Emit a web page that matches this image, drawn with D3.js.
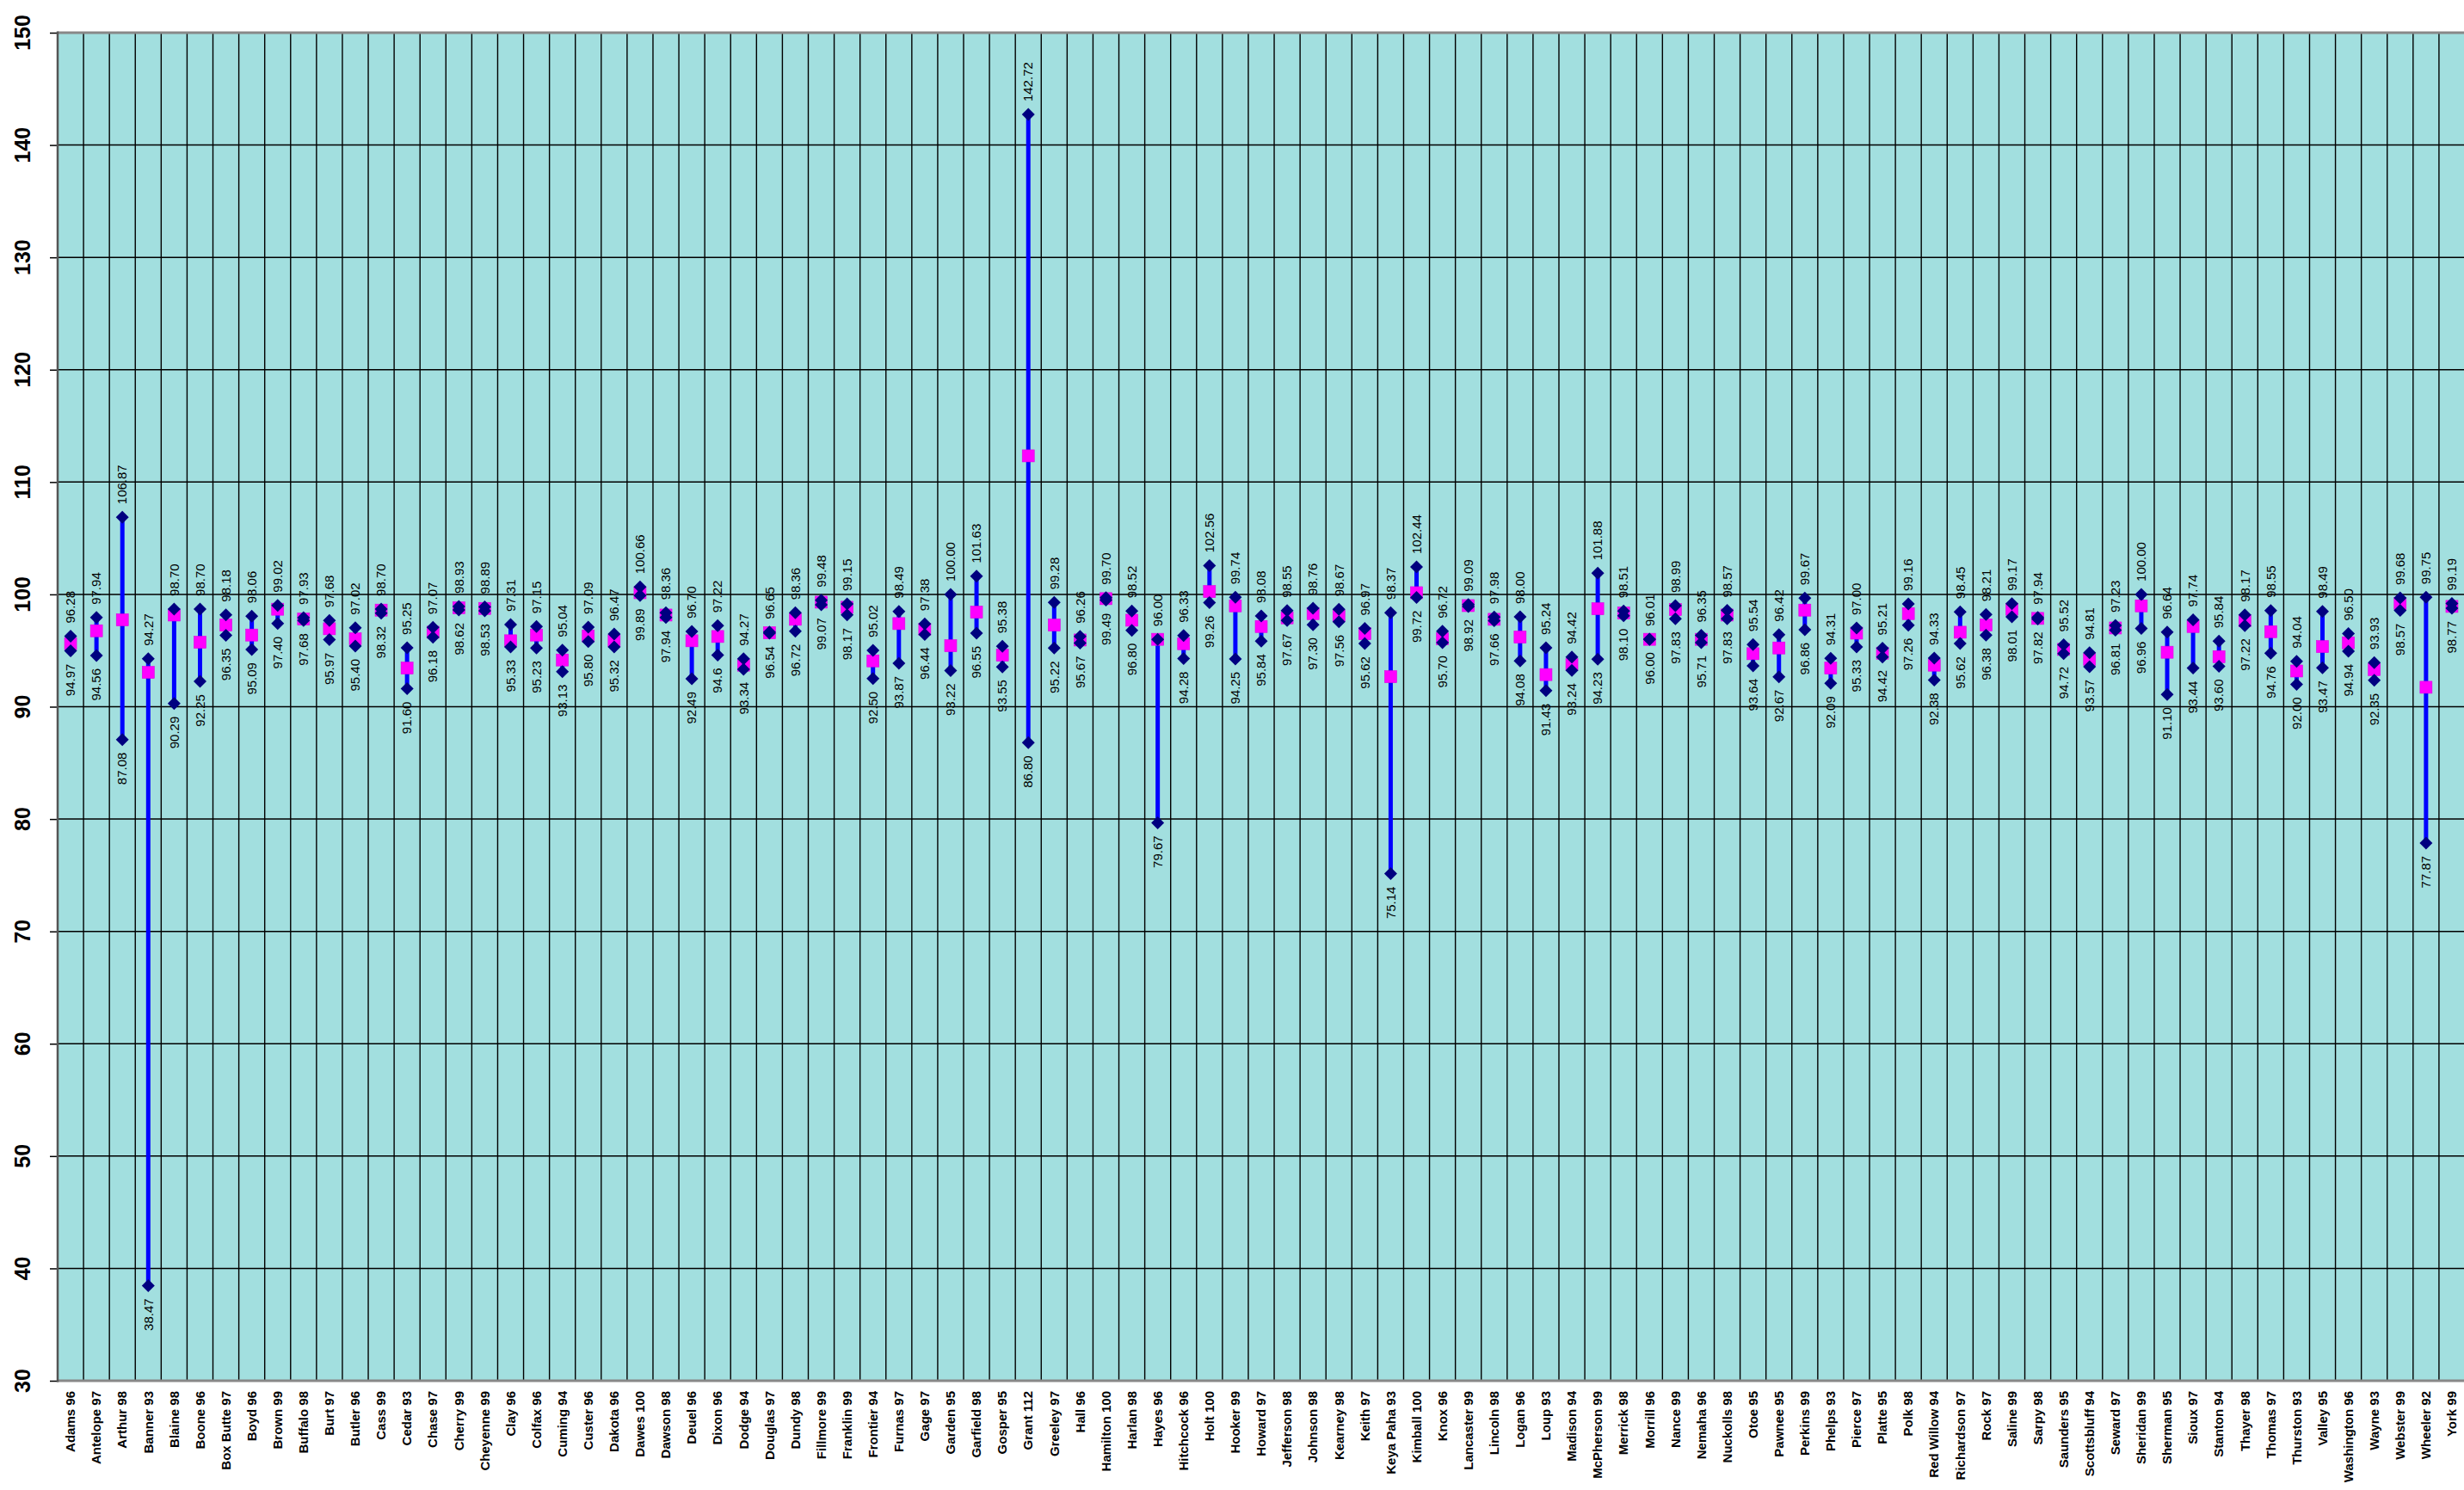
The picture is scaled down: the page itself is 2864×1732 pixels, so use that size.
<!DOCTYPE html>
<html><head><meta charset="utf-8">
<script src="https://cdn.jsdelivr.net/npm/d3@7"></script>
<style>html,body{margin:0;padding:0;background:#fff;} svg{display:block;}</style>
</head><body>
<script>
const categories = ["Adams 96","Antelope 97","Arthur 98","Banner 93","Blaine 98","Boone 96","Box Butte 97","Boyd 96","Brown 99","Buffalo 98","Burt 97","Butler 96","Cass 99","Cedar 93","Chase 97","Cherry 99","Cheyenne 99","Clay 96","Colfax 96","Cuming 94","Custer 96","Dakota 96","Dawes 100","Dawson 98","Deuel 96","Dixon 96","Dodge 94","Douglas 97","Dundy 98","Fillmore 99","Franklin 99","Frontier 94","Furnas 97","Gage 97","Garden 95","Garfield 98","Gosper 95","Grant 112","Greeley 97","Hall 96","Hamilton 100","Harlan 98","Hayes 96","Hitchcock 96","Holt 100","Hooker 99","Howard 97","Jefferson 98","Johnson 98","Kearney 98","Keith 97","Keya Paha 93","Kimball 100","Knox 96","Lancaster 99","Lincoln 98","Logan 96","Loup 93","Madison 94","McPherson 99","Merrick 98","Morrill 96","Nance 99","Nemaha 96","Nuckolls 98","Otoe 95","Pawnee 95","Perkins 99","Phelps 93","Pierce 97","Platte 95","Polk 98","Red Willow 94","Richardson 97","Rock 97","Saline 99","Sarpy 98","Saunders 95","Scottsbluff 94","Seward 97","Sheridan 99","Sherman 95","Sioux 97","Stanton 94","Thayer 98","Thomas 97","Thurston 93","Valley 95","Washington 96","Wayne 93","Webster 99","Wheeler 92","York 99"];

const highs = [96.28,97.94,106.87,94.27,98.70,98.70,98.18,98.06,99.02,97.93,97.68,97.02,98.70,95.25,97.07,98.93,98.89,97.31,97.15,95.04,97.09,96.47,100.66,98.36,96.70,97.22,94.27,96.65,98.36,99.48,99.15,95.02,98.49,97.38,100.00,101.63,95.38,142.72,99.28,96.26,99.70,98.52,96.00,96.33,102.56,99.74,98.08,98.55,98.76,98.67,96.97,98.37,102.44,96.72,99.09,97.98,98.00,95.24,94.42,101.88,98.51,96.01,98.99,96.35,98.57,95.54,96.42,99.67,94.31,97.00,95.21,99.16,94.33,98.45,98.21,99.17,97.94,95.52,94.81,97.23,100.00,96.64,97.74,95.84,98.17,98.55,94.04,98.49,96.50,93.93,99.68,99.75,99.19];

const lows = [94.97,94.56,87.08,38.47,90.29,92.25,96.35,95.09,97.40,97.68,95.97,95.40,98.32,91.60,96.18,98.62,98.53,95.33,95.23,93.13,95.80,95.32,99.89,97.94,92.49,94.6,93.34,96.54,96.72,99.07,98.17,92.50,93.87,96.44,93.22,96.55,93.55,86.80,95.22,95.67,99.49,96.80,79.67,94.28,99.26,94.25,95.84,97.67,97.30,97.56,95.62,75.14,99.72,95.70,98.92,97.66,94.08,91.43,93.24,94.23,98.10,96.00,97.83,95.71,97.83,93.64,92.67,96.86,92.09,95.33,94.42,97.26,92.38,95.62,96.38,98.01,97.82,94.72,93.57,96.81,96.96,91.10,93.44,93.60,97.22,94.76,92.00,93.47,94.94,92.35,98.57,77.87,98.77];

const means = [95.61,96.76,97.73,93.06,98.16,95.74,97.27,96.38,98.68,97.80,96.94,96.04,98.60,93.44,96.63,98.80,98.75,95.87,96.38,94.16,96.30,95.87,100.15,98.16,95.87,96.25,93.70,96.58,97.78,99.31,98.85,94.08,97.40,96.89,95.43,98.42,94.59,112.33,97.27,95.94,99.62,97.70,96.00,95.61,100.25,98.98,97.14,97.91,98.29,98.09,96.50,92.67,100.15,96.04,99.00,97.78,96.20,92.86,93.75,98.72,98.34,96.00,98.65,96.00,98.16,94.72,95.23,98.60,93.44,96.55,94.77,98.29,93.70,96.63,97.27,98.68,97.86,95.10,94.20,97.01,98.98,94.85,97.14,94.45,97.65,96.68,93.18,95.35,95.69,93.31,99.18,91.73,98.93];

const yTicks = [30,40,50,60,70,80,90,100,110,120,130,140,150];

const W = 2864, H = 1732;
const L = 67, R = 2865, T = 38, B = 1605;
const FONT = "'Liberation Sans', Arial, Helvetica, sans-serif";

const svg = d3.select("body").append("svg").attr("width", W).attr("height", H);

const x = d3.scaleBand().domain(categories).range([L, R]).padding(0);
const y = d3.scaleLinear().domain([30, 150]).range([B, T]);

// plot background
svg.append("rect").attr("x", L).attr("y", T).attr("width", R - L).attr("height", B - T).attr("fill", "#A2DFDF");

// horizontal gridlines + ticks
const yAxis = d3.axisLeft(y).tickValues(yTicks).tickSize(9).tickFormat("");
const gy = svg.append("g").attr("transform", `translate(${L},0)`).call(yAxis);
gy.select(".domain").remove();
gy.selectAll(".tick line").attr("stroke", "#000").attr("stroke-width", 1.5);
svg.append("g").selectAll("line").data(yTicks.filter(v => v > 30 && v < 150)).join("line")
  .attr("x1", L).attr("x2", R).attr("y1", d => y(d)).attr("y2", d => y(d))
  .attr("stroke", "#000").attr("stroke-width", 1.5);

// y tick labels (rotated)
svg.append("g").selectAll("text").data(yTicks).join("text")
  .attr("transform", d => `translate(26,${y(d)}) rotate(-90)`)
  .attr("text-anchor", "middle").attr("dy", "0.35em")
  .attr("font-family", FONT).attr("font-weight", "bold").attr("font-size", 25)
  .attr("fill", "#000").text(d => d);

// vertical gridlines at category boundaries
const bounds = categories.map(c => x(c)).slice(1);
svg.append("g").selectAll("line").data(bounds).join("line")
  .attr("x1", d => d).attr("x2", d => d).attr("y1", T).attr("y2", B)
  .attr("stroke", "#000").attr("stroke-width", 1.4);

// borders
svg.append("line").attr("x1", L).attr("x2", R).attr("y1", T).attr("y2", T).attr("stroke", "#888").attr("stroke-width", 3);
svg.append("line").attr("x1", L).attr("x2", R).attr("y1", B).attr("y2", B).attr("stroke", "#888").attr("stroke-width", 3);
svg.append("line").attr("x1", L).attr("x2", L).attr("y1", T - 1.5).attr("y2", B + 1.5).attr("stroke", "#555").attr("stroke-width", 2.5);

// x category labels
const xAxis = d3.axisBottom(x).tickSize(0).tickPadding(0);
const gx = svg.append("g").attr("transform", `translate(0,${B})`).call(xAxis);
gx.select(".domain").remove();
gx.selectAll(".tick text")
  .attr("transform", "translate(0,12) rotate(-90)")
  .attr("text-anchor", "end").attr("dy", "0.35em").attr("y", 0).attr("x", 0)
  .attr("font-family", FONT).attr("font-weight", "bold").attr("font-size", 15)
  .attr("fill", "#000");

const cx = i => x(categories[i]) + x.bandwidth() / 2;

// high-low lines
svg.append("g").selectAll("line").data(categories).join("line")
  .attr("x1", (d, i) => cx(i)).attr("x2", (d, i) => cx(i))
  .attr("y1", (d, i) => y(highs[i])).attr("y2", (d, i) => y(lows[i]))
  .attr("stroke", "#0000FF").attr("stroke-width", 5);

// mean squares
const sq = 14;
svg.append("g").selectAll("rect").data(categories).join("rect")
  .attr("x", (d, i) => cx(i) - sq / 2).attr("y", (d, i) => y(means[i]) - sq / 2)
  .attr("width", sq).attr("height", sq)
  .attr("fill", "#FF00FF").attr("stroke", "#E000E0").attr("stroke-width", 0.6);

// diamonds
const dia = 7.5;
const diamondPath = `M0,${-dia}L${dia},0L0,${dia}L${-dia},0Z`;
const dg = svg.append("g");
dg.selectAll("path.hi").data(categories).join("path").attr("class", "hi")
  .attr("d", diamondPath).attr("transform", (d, i) => `translate(${cx(i)},${y(highs[i])})`)
  .attr("fill", "#000080");
dg.selectAll("path.lo").data(categories).join("path").attr("class", "lo")
  .attr("d", diamondPath).attr("transform", (d, i) => `translate(${cx(i)},${y(lows[i])})`)
  .attr("fill", "#000080");

// value labels
const fmt = (v, i, which) => (which === "lo" && categories[i] === "Dixon 96") ? "94.6" : v.toFixed(2);
const lg = svg.append("g").attr("font-family", FONT).attr("font-size", 15).attr("fill", "#000");
lg.selectAll("text.hi").data(categories).join("text").attr("class", "hi")
  .attr("transform", (d, i) => `translate(${cx(i)},${y(highs[i]) - 15}) rotate(-90)`)
  .attr("text-anchor", "start").attr("dy", "0.35em")
  .text((d, i) => fmt(highs[i], i, "hi"));
lg.selectAll("text.lo").data(categories).join("text").attr("class", "lo")
  .attr("transform", (d, i) => `translate(${cx(i)},${y(lows[i]) + 15}) rotate(-90)`)
  .attr("text-anchor", "end").attr("dy", "0.35em")
  .text((d, i) => fmt(lows[i], i, "lo"));
</script>
</body></html>
